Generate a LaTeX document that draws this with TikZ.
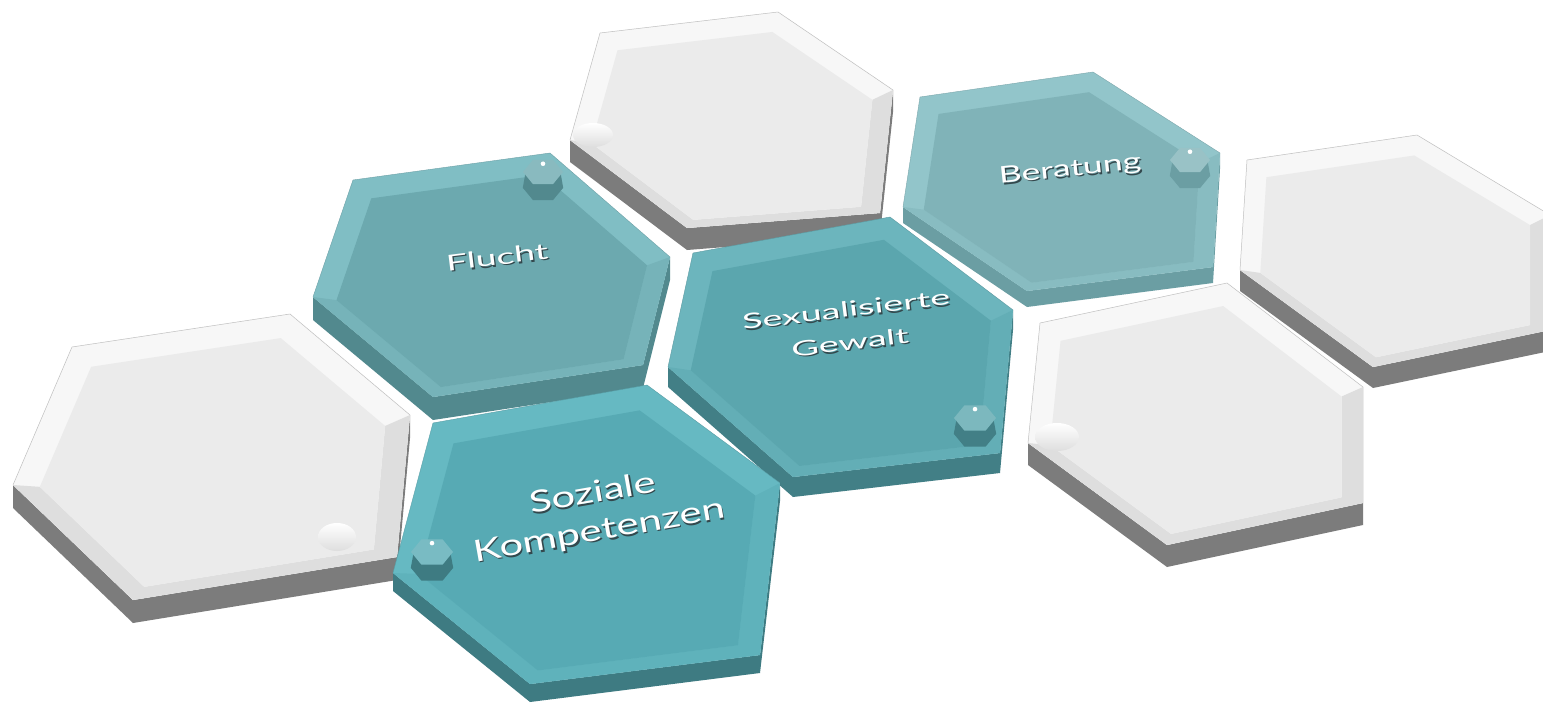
\documentclass[tikz,border=0pt]{standalone}
\usepackage{fontspec}
\newfontfamily\lab{Lato}
\usetikzlibrary{calc,shapes.geometric}
\definecolor{wrim}{HTML}{F7F7F7}
\definecolor{wface}{HTML}{EBEBEB}
\definecolor{wbev}{HTML}{DEDEDE}
\definecolor{wband}{HTML}{7C7C7C}
\definecolor{frim}{HTML}{80BEC4}
\definecolor{fface}{HTML}{6CA9AF}
\definecolor{fbev}{HTML}{76B3B9}
\definecolor{fband}{HTML}{52898E}
\definecolor{srim}{HTML}{66B9C2}
\definecolor{sface}{HTML}{57AAB4}
\definecolor{sbev}{HTML}{5FB2BB}
\definecolor{sband}{HTML}{3E7B82}
\definecolor{xrim}{HTML}{6CB5BD}
\definecolor{xface}{HTML}{5BA6AE}
\definecolor{xbev}{HTML}{63AEB6}
\definecolor{xband}{HTML}{427F86}
\definecolor{brim}{HTML}{92C5CA}
\definecolor{bface}{HTML}{80B3B8}
\definecolor{bbev}{HTML}{88BCC1}
\definecolor{bband}{HTML}{6B9EA3}
\definecolor{shadowc}{HTML}{33484D}
\newcommand{\hexpts}[7]{%
  \coordinate (#1a) at (#2); \coordinate (#1b) at (#3); \coordinate (#1c) at (#4);
  \coordinate (#1d) at (#5); \coordinate (#1e) at (#6); \coordinate (#1f) at (#7);}
% #1 name, #2 rim colour, #3 face colour, #4 bevel colour, #5 band colour, #6 thickness, #7 outline style
\newcommand{\hexslab}[7]{%
  \coordinate (#1o) at (barycentric cs:#1a=1,#1b=1,#1c=1,#1d=1,#1e=1,#1f=1);
  \foreach \v in {a,b,c,d,e,f}{\coordinate (#1i\v) at ($(#1o)!0.87!(#1\v)+(0,6)$);}
  \fill[#5] (#1f) -- ($(#1f)+(0,#6)$) -- ($(#1e)+(0,#6)$) -- ($(#1d)+(0,#6)$)
     -- ($(#1c)+(0,#6)$) -- (#1c) -- (#1d) -- (#1e) -- cycle;
  \fill[#2] (#1a) -- (#1b) -- (#1c) -- (#1d) -- (#1e) -- (#1f) -- cycle;
  \fill[#4] (#1f) -- (#1e) -- (#1d) -- (#1c) -- (#1ic) -- (#1id) -- (#1ie) -- (#1if) -- cycle;
  \fill[#3] (#1ia) -- (#1ib) -- (#1ic) -- (#1id) -- (#1ie) -- (#1if) -- cycle;
  \draw[#7] (#1f) -- (#1a) -- (#1b) -- (#1c);}
% knob: name, centre, radius, top colour, side colour
\newcommand{\knob}[5]{%
  \node[knobshape, minimum size=2*#3, fill=#5] (#1s) at ($(#2)+(0,16)$) {};
  \fill[#5] (#1s.corner 3) -- ($(#2)+(-#3*0.87,0)$) -- ($(#2)+(#3*0.87,0)$) -- (#1s.corner 6) -- cycle;
  \node[knobshape, minimum size=2*#3, fill=#4] (#1t) at (#2) {};
  \fill[white] ($(#1t.north)+(0,4)$) circle (2.3);}
\tikzset{
  knobshape/.style={regular polygon, regular polygon sides=6, inner sep=0pt, yscale=0.7, draw=none},
  lbl/.style={text=white, align=center, inner sep=0pt},
  lblshadow/.style={text=shadowc, align=center, inner sep=0pt},
  bump/.style={ellipse, inner sep=0pt, top color=white, bottom color=wbev, draw=none}
}
\begin{document}
\begin{tikzpicture}[x=1pt,y=-1pt]
\useasboundingbox (0,0) rectangle (1543,702);
\clip (0,0) rectangle (1543,702);
\fill[white] (0,0) rectangle (1543,702);
% points: TL, TR, R, BR, BL, L
\hexpts{wB}{600,33}{778,12}{893,90}{880,213}{687,228}{570,140}
\hexpts{tB}{920,97}{1093,72}{1220,153}{1213,267}{1027,291}{903,207}
\hexpts{wD}{1247,160}{1417,135}{1550,215}{1550,330}{1373,367}{1240,270}
\hexpts{tF}{353,180}{550,153}{670,257}{643,365}{433,397}{313,297}
\hexpts{tX}{693,253}{890,217}{1013,310}{1000,453}{793,477}{668,367}
\hexpts{wC}{1040,323}{1227,283}{1363,387}{1363,503}{1167,545}{1028,443}
\hexpts{wA}{72,347}{290,314}{410,415}{397,557}{133,600}{13,485}
\hexpts{tS}{433,423}{647,385}{780,483}{760,655}{530,684}{393,573}

\hexslab{wB}{fill=wrim}{fill=wface}{fill=wbev}{fill=wband}{22}{draw=gray!50,line width=0.5pt}
\node[bump, minimum width=40, minimum height=24] (bwB) at (593,135) {};
\hexslab{tB}{fill=brim}{fill=bface}{fill=bbev}{fill=bband}{16}{draw=brim!85!black,line width=0.4pt}
\knob{kB}{1190,160}{20}{bface!80!white}{bband}
\hexslab{wD}{fill=wrim}{fill=wface}{fill=wbev}{fill=wband}{21}{draw=gray!50,line width=0.5pt}
\hexslab{tF}{fill=frim}{fill=fface}{fill=fbev}{fill=fband}{23}{draw=frim!85!black,line width=0.4pt}
\knob{kF}{543,172}{20}{fface!80!white}{fband}
\hexslab{tX}{fill=xrim}{fill=xface}{fill=xbev}{fill=xband}{20}{draw=xrim!85!black,line width=0.4pt}
\knob{kX}{975,418}{21}{xface!80!white}{xband}
\hexslab{wC}{fill=wrim}{fill=wface}{fill=wbev}{fill=wband}{22}{draw=gray!50,line width=0.5pt}
\node[bump, minimum width=44, minimum height=28] (bwC) at (1057,437) {};
\hexslab{wA}{fill=wrim}{fill=wface}{fill=wbev}{fill=wband}{23}{draw=gray!50,line width=0.5pt}
\node[bump, minimum width=38, minimum height=28] (bwA) at (337,537) {};
\hexslab{tS}{fill=srim}{fill=sface}{fill=sbev}{fill=sband}{18}{draw=srim!85!black,line width=0.4pt}
\knob{kS}{432,552}{21}{sface!80!white}{sband}

% labels (dark drop shadow, then white text)
\node[lblshadow, rotate=7, xscale=1.7, font=\lab\fontsize{22}{24}\selectfont] (sF) at (498.5,258.5) {Flucht};
\node[lbl, rotate=7, xscale=1.7, font=\lab\fontsize{22}{24}\selectfont] (lF) at (497,257) {Flucht};
\node[lblshadow, rotate=6, xscale=1.55, font=\lab\fontsize{23}{25}\selectfont] (sB) at (1071.5,171.5) {Beratung};
\node[lbl, rotate=6, xscale=1.55, font=\lab\fontsize{23}{25}\selectfont] (lB) at (1070,170) {Beratung};
\node[lblshadow, rotate=7, xscale=1.8, font=\lab\fontsize{21}{33}\selectfont] (sX) at (849.5,327.5) {Sexualisierte\\Gewalt};
\node[lbl, rotate=7, xscale=1.8, font=\lab\fontsize{21}{33}\selectfont] (lX) at (848,326) {Sexualisierte\\Gewalt};
\node[lblshadow, rotate=10, xscale=1.4, font=\lab\fontsize{30}{38}\selectfont] (sS) at (597.5,514.5) {Soziale\\Kompetenzen};
\node[lbl, rotate=10, xscale=1.4, font=\lab\fontsize{30}{38}\selectfont] (lS) at (596,513) {Soziale\\Kompetenzen};
\end{tikzpicture}
\end{document}
